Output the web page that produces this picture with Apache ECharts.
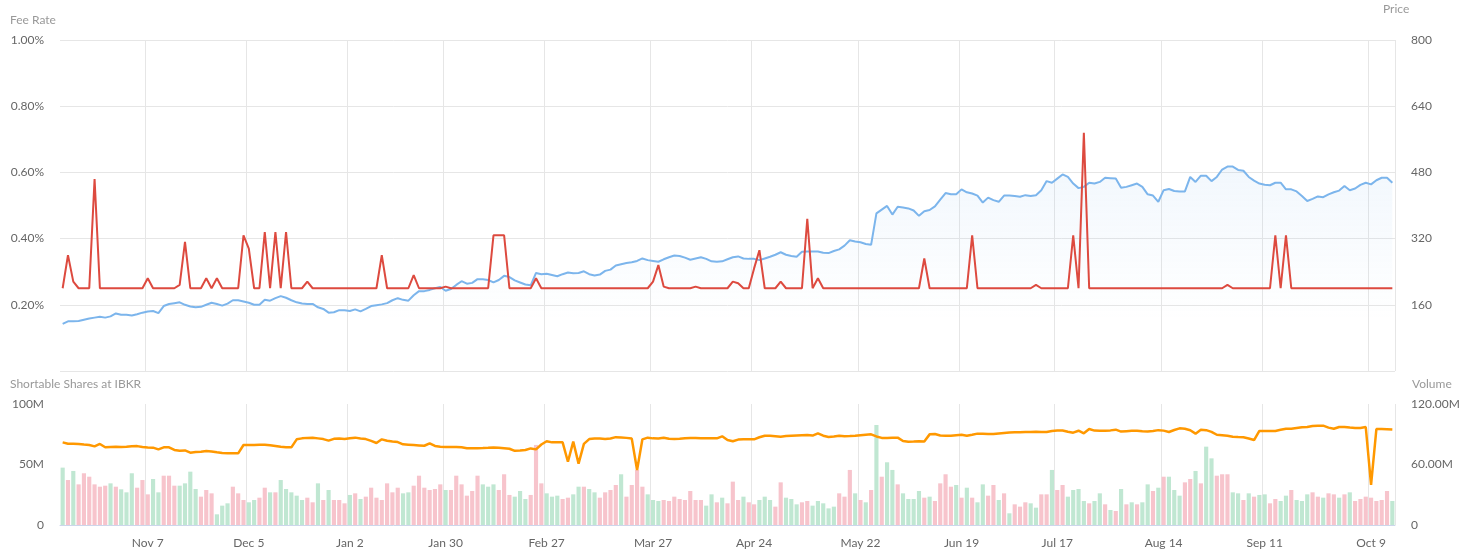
<!DOCTYPE html>
<html>
<head>
<meta charset="utf-8">
<title>Fee Rate / Shortable Shares</title>
<script src="https://cdn.jsdelivr.net/npm/echarts@6/dist/echarts.min.js"></script>
<style>
  html, body { margin: 0; padding: 0; background: #fff; }
  #chart { width: 1478px; height: 554px; }
</style>
</head>
<body>
<div id="chart"></div>
<script>
// trading calendar
const firstDay = '2022-10-14'
const lastDay = '2023-10-13'
const holidays = ['2022-11-24', '2022-12-26', '2023-01-02', '2023-01-16', '2023-02-20',
  '2023-04-07', '2023-05-29', '2023-06-19', '2023-07-04', '2023-09-04']
const tickDays = ['2022-11-07', '2022-12-05', '2023-01-02', '2023-01-30', '2023-02-27', '2023-03-27',
  '2023-04-24', '2023-05-22', '2023-06-19', '2023-07-17', '2023-08-14', '2023-09-11', '2023-10-09']
const monthNames = ['Jan', 'Feb', 'Mar', 'Apr', 'May', 'Jun', 'Jul', 'Aug', 'Sep', 'Oct', 'Nov', 'Dec']

// price (right axis, top)
const price = [
  114, 120, 120, 121, 124, 127, 129, 131, 129, 132,
  139, 136, 136, 134, 137, 141, 144, 145, 140, 157,
  162, 164, 166, 160, 156, 154, 155, 160, 165, 162,
  158, 163, 171, 171, 168, 165, 160, 160, 172, 170,
  176, 181, 177, 171, 166, 163, 162, 162, 154, 150,
  141, 142, 147, 147, 145, 149, 144, 150, 157, 159,
  161, 164, 171, 176, 172, 170, 183, 193, 193, 196,
  200, 203, 194, 198, 208, 217, 211, 213, 222, 222,
  220, 214, 220, 230, 227, 219, 214, 209, 207, 237,
  234, 235, 232, 229, 234, 238, 236, 237, 241, 234,
  231, 233, 242, 245, 255, 258, 261, 263, 266, 272,
  268, 266, 264, 270, 275, 279, 278, 274, 269, 272,
  275, 271, 265, 264, 265, 270, 275, 277, 272, 271,
  271, 268, 272, 276, 281, 287, 281, 278, 276, 288,
  289, 289, 289, 286, 285, 290, 294, 303, 316, 313,
  311, 307, 305, 381, 390, 399, 378, 397, 395, 393,
  388, 375, 386, 389, 398, 414, 430, 427, 427, 439,
  432, 429, 424, 407, 419, 413, 409, 424, 424, 423,
  421, 425, 423, 425, 437, 459, 455, 465, 475, 469,
  453, 442, 445, 455, 453, 457, 467, 466, 465, 443,
  445, 449, 453, 445, 427, 424, 409, 437, 440, 435,
  434, 434, 469, 457, 472, 472, 459, 469, 487, 494,
  494, 486, 484, 469, 460, 453, 450, 449, 455, 455,
  439, 439, 434, 423, 411, 416, 422, 420, 427, 432,
  436, 447, 437, 441, 450, 455, 451, 461, 467, 467, 455
]

// fee rate in % (left axis, top)
const feeRate = [
  0.25, 0.35, 0.27, 0.25, 0.25, 0.25, 0.58, 0.25, 0.25, 0.25,
  0.25, 0.25, 0.25, 0.25, 0.25, 0.25, 0.28, 0.25, 0.25, 0.25,
  0.25, 0.25, 0.26, 0.39, 0.25, 0.25, 0.25, 0.28, 0.25, 0.28,
  0.25, 0.25, 0.25, 0.25, 0.41, 0.37, 0.25, 0.25, 0.42, 0.25,
  0.42, 0.25, 0.42, 0.25, 0.25, 0.25, 0.27, 0.25, 0.25, 0.25,
  0.25, 0.25, 0.25, 0.25, 0.25, 0.25, 0.25, 0.25, 0.25, 0.25,
  0.35, 0.25, 0.25, 0.25, 0.25, 0.25, 0.29, 0.25, 0.25, 0.25,
  0.25, 0.25, 0.255, 0.25, 0.25, 0.25, 0.25, 0.25, 0.25, 0.25,
  0.25, 0.41, 0.41, 0.41, 0.25, 0.25, 0.25, 0.25, 0.25, 0.28,
  0.25, 0.25, 0.25, 0.25, 0.25, 0.25, 0.25, 0.25, 0.25, 0.25,
  0.25, 0.25, 0.25, 0.25, 0.25, 0.25, 0.25, 0.25, 0.25, 0.25,
  0.25, 0.27, 0.32, 0.255, 0.25, 0.25, 0.25, 0.25, 0.25, 0.255,
  0.25, 0.25, 0.25, 0.25, 0.25, 0.25, 0.27, 0.265, 0.25, 0.25,
  0.31, 0.365, 0.25, 0.25, 0.25, 0.27, 0.25, 0.25, 0.25, 0.25,
  0.46, 0.25, 0.28, 0.25, 0.25, 0.25, 0.25, 0.25, 0.25, 0.25,
  0.25, 0.25, 0.25, 0.25, 0.25, 0.25, 0.25, 0.25, 0.25, 0.25,
  0.25, 0.25, 0.34, 0.25, 0.25, 0.25, 0.25, 0.25, 0.25, 0.25,
  0.25, 0.41, 0.25, 0.25, 0.25, 0.25, 0.25, 0.25, 0.25, 0.25,
  0.25, 0.25, 0.25, 0.26, 0.25, 0.25, 0.25, 0.25, 0.25, 0.25,
  0.41, 0.25, 0.72, 0.25, 0.25, 0.25, 0.25, 0.25, 0.25, 0.25,
  0.25, 0.25, 0.25, 0.25, 0.25, 0.25, 0.25, 0.25, 0.25, 0.25,
  0.25, 0.25, 0.25, 0.25, 0.25, 0.25, 0.25, 0.25, 0.25, 0.26,
  0.25, 0.25, 0.25, 0.25, 0.25, 0.25, 0.25, 0.25, 0.41, 0.25,
  0.41, 0.25, 0.25, 0.25, 0.25, 0.25, 0.25, 0.25, 0.25, 0.25,
  0.25, 0.25, 0.25, 0.25, 0.25, 0.25, 0.25, 0.25, 0.25, 0.25, 0.25
]

// shortable shares at IBKR, millions (left axis, bottom)
const shortable = [
  68.3, 67.2, 67.2, 67.0, 66.5, 66.1, 65.0, 67.0, 64.2, 64.5,
  64.6, 64.5, 64.7, 65.1, 65.2, 64.4, 64.1, 63.9, 62.5, 64.2,
  64.2, 62.0, 61.4, 61.6, 59.8, 60.3, 60.6, 61.1, 60.8, 60.1,
  59.5, 59.4, 59.2, 59.2, 66.1, 66.1, 66.2, 66.3, 66.4, 65.9,
  65.3, 64.6, 64.3, 64.2, 70.8, 71.6, 72.0, 72.2, 71.6, 71.0,
  69.7, 71.2, 71.5, 71.1, 71.7, 72.2, 71.5, 71.0, 69.5, 67.8,
  70.8, 69.6, 69.0, 68.5, 66.7, 66.4, 66.1, 65.8, 65.5, 67.5,
  65.3, 64.7, 64.5, 64.5, 64.5, 64.2, 63.5, 63.4, 63.5, 63.6,
  63.8, 64.1, 63.8, 63.4, 63.0, 61.3, 61.5, 62.0, 63.3, 62.5,
  66.5, 69.2, 68.3, 68.3, 68.3, 52.3, 68.9, 50.7, 67.0, 71.0,
  71.5, 71.4, 71.1, 71.5, 72.6, 72.4, 72.0, 71.4, 45.5, 70.8,
  72.2, 71.6, 71.5, 72.1, 71.2, 71.1, 71.2, 71.6, 71.9, 71.8,
  71.7, 71.6, 71.6, 71.6, 73.3, 70.2, 69.2, 70.6, 70.8, 70.8,
  70.8, 72.5, 73.8, 73.7, 73.4, 73.0, 73.5, 73.8, 74.0, 74.2,
  74.4, 73.9, 75.8, 73.8, 72.8, 73.2, 73.8, 73.4, 73.5, 73.8,
  74.2, 74.6, 74.9, 73.2, 72.0, 72.0, 72.1, 72.2, 69.4, 68.8,
  69.0, 69.3, 69.1, 74.9, 75.2, 74.0, 73.8, 73.8, 74.2, 74.5,
  73.8, 74.6, 75.5, 75.4, 75.3, 75.3, 75.7, 76.1, 76.5, 76.6,
  76.7, 76.8, 76.9, 77.1, 76.8, 76.8, 77.7, 78.0, 78.1, 77.0,
  76.3, 77.9, 75.8, 79.3, 78.0, 77.9, 77.9, 78.2, 78.8, 77.2,
  77.5, 77.8, 77.9, 77.5, 77.2, 77.7, 78.4, 78.0, 76.9, 78.5,
  79.9, 79.5, 78.3, 75.5, 78.8, 78.4, 77.0, 74.6, 74.2, 73.8,
  73.0, 72.7, 72.5, 71.5, 70.2, 77.7, 77.7, 77.7, 77.7, 78.7,
  79.6, 79.6, 80.2, 80.8, 81.0, 81.9, 82.1, 82.1, 80.5, 79.5,
  81.0, 81.0, 80.5, 80.2, 80.2, 81.0, 33.1, 79.3, 79.3, 79.2, 79.0
]

// volume, millions (right axis, bottom)
const volume = [
  56.9, 44.6, 53.6, 40.3, 51.3, 47.9, 40.3, 38.0, 39.0, 41.3,
  38.0, 35.4, 32.4, 51.3, 37.0, 44.6, 30.4, 45.6, 32.4, 48.9,
  48.9, 39.0, 39.0, 41.3, 52.9, 35.7, 28.1, 34.7, 31.4, 10.6,
  19.2, 21.5, 38.0, 31.4, 24.8, 22.5, 24.8, 27.1, 37.0, 32.4,
  32.4, 44.6, 35.7, 32.4, 29.1, 24.8, 27.1, 22.5, 41.3, 24.8,
  34.7, 24.8, 24.8, 21.5, 29.8, 31.4, 25.8, 28.1, 37.0, 27.1,
  24.8, 41.3, 32.4, 37.0, 31.4, 32.4, 39.0, 48.9, 37.0, 34.7,
  35.7, 40.3, 34.7, 34.7, 48.9, 40.3, 29.1, 33.7, 48.9, 40.3,
  38.0, 40.3, 34.7, 50.3, 29.8, 28.1, 33.7, 25.8, 29.8, 79.4,
  41.3, 31.4, 28.1, 29.1, 25.8, 27.1, 30.4, 38.0, 38.0, 35.7,
  32.4, 27.1, 32.4, 34.7, 39.7, 50.3, 28.1, 39.7, 54.6, 38.0,
  30.4, 24.8, 23.8, 24.8, 23.8, 28.1, 25.8, 24.8, 33.7, 24.8,
  24.8, 19.2, 30.4, 22.5, 27.1, 21.5, 43.0, 24.8, 28.1, 22.5,
  20.5, 24.8, 28.1, 24.8, 18.2, 42.3, 27.1, 25.8, 20.5, 22.5,
  23.8, 19.2, 23.8, 21.5, 16.5, 18.2, 31.4, 28.1, 54.6, 31.4,
  24.8, 22.5, 34.7, 99.2, 47.9, 62.2, 54.6, 40.3, 31.4, 25.8,
  25.8, 33.7, 27.1, 28.1, 23.8, 41.3, 50.3, 38.0, 39.7, 27.1,
  37.0, 27.1, 22.5, 40.3, 29.1, 39.7, 24.8, 31.4, 11.6, 20.5,
  18.2, 22.5, 21.5, 17.2, 30.4, 30.4, 54.6, 34.7, 39.7, 28.1,
  34.7, 35.7, 23.8, 21.5, 23.8, 31.4, 20.5, 14.9, 13.9, 35.7,
  20.5, 22.5, 20.5, 22.5, 40.3, 33.7, 37.0, 47.9, 47.9, 34.7,
  29.1, 42.3, 45.6, 53.6, 41.3, 77.7, 66.1, 48.9, 50.3, 50.3,
  32.4, 31.4, 24.8, 31.4, 28.1, 29.8, 30.4, 21.5, 25.8, 23.8,
  29.1, 34.7, 24.8, 23.8, 30.4, 32.4, 28.1, 27.1, 31.4, 30.4,
  27.1, 30.4, 32.4, 23.8, 25.8, 28.1, 27.1, 23.8, 24.8, 33.7, 23.8
]
// G = up day, P = down day, one letter per volume bar
const volumeDir =
  'GPGPPPPPPG' + 'PGGGPPPGGP' + 'PPGGGGPPPG' + 'GGPPPGGPPG' + 'PGGGGGPPGP' +
  'GPPPGPGPPP' + 'PPPPGGPPPP' + 'PPGPPPPPPG' + 'GGPPPGGGPP' + 'PGGGPPGGPG' +
  'GPPPPGPPPP' + 'GGGPPPPPPP' + 'PGGPGPPPGP' + 'PGGGPPGGGP' + 'PGGGGGPPPG' +
  'PGPGPGGPGG' + 'GGPGPPPPGP' + 'GPGGPPGPGP' + 'PPGGPPGPPG' + 'GGGPGGPGPG' +
  'PGPGGPGPGG' + 'GPPGPGGPPP' + 'GGPGPGGPPG' + 'GPGGGPPGPP' + 'GPGPPPPPPPG'

const pad = n => (n < 10 ? '0' : '') + n
const isoDay = d => d.getUTCFullYear() + '-' + pad(d.getUTCMonth() + 1) + '-' + pad(d.getUTCDate())

let days = []
for (let d = new Date(firstDay + 'T00:00:00Z'); isoDay(d) <= lastDay; d.setUTCDate(d.getUTCDate() + 1)) {
  const wd = d.getUTCDay()
  if (wd === 0 || wd === 6) continue
  if (holidays.indexOf(isoDay(d)) >= 0) continue
  days.push(isoDay(d))
}

// label shown on the first trading day on/after each tick day
let tickLabel = {}
tickDays.forEach(t => {
  const idx = days.findIndex(d => d >= t)
  const parts = t.split('-')
  tickLabel[idx] = monthNames[+parts[1] - 1] + ' ' + (+parts[2])
})
const showTick = idx => tickLabel[idx] !== undefined

const labelColor = '#666'
const nameColor = '#999'
const gridColor = '#e6e6e6'
const font = 'Lato, "Open Sans", sans-serif'

const chart = echarts.init(document.getElementById('chart'))

chart.setOption({
  animation: false,
  textStyle: { fontFamily: font },
  grid: [
    { left: 60, right: 83, top: 40, height: 331 },
    { left: 60, right: 83, top: 404, height: 121 }
  ],
  graphic: [
    { type: 'text', left: 10, top: 14, style: { text: 'Fee Rate', fill: nameColor, font: '12px ' + font } },
    { type: 'text', left: 1383, top: 3, style: { text: 'Price', fill: nameColor, font: '12px ' + font } },
    { type: 'text', left: 10, top: 378, style: { text: 'Shortable Shares at IBKR', fill: nameColor, font: '12px ' + font } },
    { type: 'text', left: 1412, top: 378, style: { text: 'Volume', fill: nameColor, font: '12px ' + font } }
  ],
  xAxis: [
    {
      type: 'category', gridIndex: 0, data: days, boundaryGap: true,
      axisLine: { show: false }, axisTick: { show: false },
      axisLabel: { show: false, interval: showTick },
      splitLine: { show: true, interval: showTick, lineStyle: { color: gridColor, width: 1 } }
    },
    {
      type: 'category', gridIndex: 1, data: days, boundaryGap: true,
      axisLine: { show: true, lineStyle: { color: '#ccd6eb', width: 1 } },
      axisTick: { show: false },
      axisLabel: {
        interval: showTick, color: labelColor, fontSize: 12, margin: 12,
        formatter: (v, i) => tickLabel[i] || ''
      },
      splitLine: { show: true, interval: showTick, lineStyle: { color: gridColor, width: 1 } }
    }
  ],
  yAxis: [
    {
      type: 'value', gridIndex: 0, position: 'left', min: 0, max: 1, interval: 0.2,
      axisLine: { show: false }, axisTick: { show: false },
      axisLabel: { color: labelColor, fontSize: 12, margin: 16, showMinLabel: false,
        formatter: v => v.toFixed(2) + '%' },
      splitLine: { show: true, lineStyle: { color: gridColor, width: 1 } }
    },
    {
      type: 'value', gridIndex: 0, position: 'right', min: 0, max: 800, interval: 160,
      axisLine: { show: false }, axisTick: { show: false },
      axisLabel: { color: labelColor, fontSize: 12, margin: 16, showMinLabel: false },
      splitLine: { show: false }
    },
    {
      type: 'value', gridIndex: 1, position: 'left', min: 0, max: 100, interval: 50,
      axisLine: { show: false }, axisTick: { show: false },
      axisLabel: { color: labelColor, fontSize: 12, margin: 16,
        formatter: v => (v === 0 ? '0' : v + 'M') },
      splitLine: { show: false }
    },
    {
      type: 'value', gridIndex: 1, position: 'right', min: 0, max: 120, interval: 60,
      axisLine: { show: false }, axisTick: { show: false },
      axisLabel: { color: labelColor, fontSize: 12, margin: 16,
        formatter: v => (v === 0 ? '0' : v.toFixed(2) + 'M') },
      splitLine: { show: false }
    }
  ],
  series: [
    {
      name: 'Price', type: 'line', xAxisIndex: 0, yAxisIndex: 1, data: price,
      showSymbol: false, z: 2,
      lineStyle: { color: '#7cb5ec', width: 2 },
      itemStyle: { color: '#7cb5ec' },
      areaStyle: {
        color: new echarts.graphic.LinearGradient(0, 0, 0, 1, [
          { offset: 0, color: 'rgba(124,181,236,0.14)' },
          { offset: 0.75, color: 'rgba(124,181,236,0)' }
        ])
      }
    },
    {
      name: 'Fee Rate', type: 'line', xAxisIndex: 0, yAxisIndex: 0, data: feeRate,
      showSymbol: false, z: 3,
      lineStyle: { color: '#dd4a3f', width: 2 },
      itemStyle: { color: '#dd4a3f' }
    },
    {
      name: 'Volume', type: 'bar', xAxisIndex: 1, yAxisIndex: 3, data: volume,
      barCategoryGap: '22%', z: 2,
      itemStyle: {
        color: p => (volumeDir[p.dataIndex] === 'G' ? '#c0e7d2' : '#f7c4cc')
      }
    },
    {
      name: 'Shortable Shares', type: 'line', xAxisIndex: 1, yAxisIndex: 2, data: shortable,
      showSymbol: false, z: 3,
      lineStyle: { color: '#ff9800', width: 2.5 },
      itemStyle: { color: '#ff9800' }
    }
  ]
})
</script>
</body>
</html>
